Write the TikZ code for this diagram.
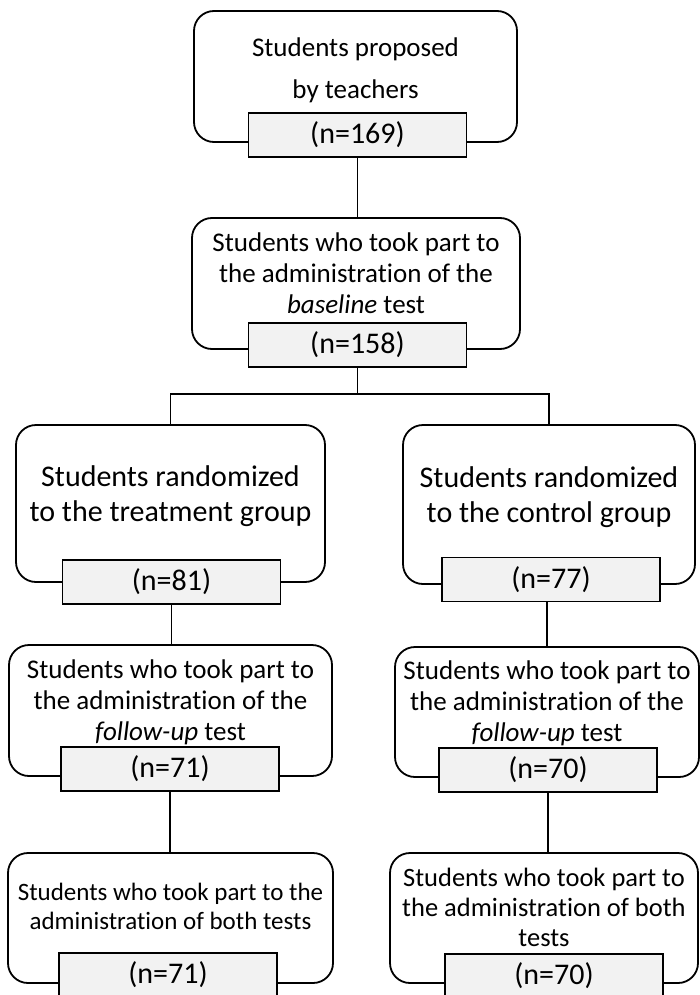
\documentclass[tikz,border=0pt]{standalone}
\usepackage{fontspec}
\setmainfont{Carlito}[RawFeature={-liga}]
\definecolor{cgray}{HTML}{F2F2F2}
\begin{document}
\begin{tikzpicture}[x=1pt,y=-1pt,
  rbox/.style={draw, line width=1.8pt, rounded corners=20pt, inner sep=0pt},
  cbox/.style={draw, line width=1.8pt, fill=cgray, inner sep=0pt, minimum width=218pt, minimum height=44pt, font=\fontsize{30}{34}\selectfont},
  txt/.style={align=center, inner sep=0pt},
  conn/.style={line width=1.8pt}]
\useasboundingbox (0,0) rectangle (700,995);
\clip (0,0) rectangle (700,995);
% boxes
\node[rbox, minimum width=323pt, minimum height=131pt] (b1) at (355.5,76.5) {};
\node[txt, font=\fontsize{27}{42}\selectfont] (t1) at (355.5,70) {Students proposed\\by teachers};
\node[cbox] (c1) at (357.5,135) {(n=169)};

\node[rbox, minimum width=328pt, minimum height=131pt] (b2) at (356,283.5) {};
\node[txt, font=\fontsize{27}{31}\selectfont] (t2) at (356,273) {Students who took part to\\the administration of the\\\textit{baseline} test};
\node[cbox] (c2) at (357.5,345) {(n=158)};

\node[rbox, minimum width=309pt, minimum height=157pt] (b3) at (170.5,503.5) {};
\node[txt, font=\fontsize{30}{35}\selectfont] (t3) at (170.5,496.5) {Students randomized\\to the treatment group};
\node[cbox] (c3) at (171.5,582) {(n=81)};

\node[rbox, minimum width=292pt, minimum height=159pt] (b4) at (549,504.5) {};
\node[txt, font=\fontsize{30}{35}\selectfont] (t4) at (549,497) {Students randomized\\to the control group};
\node[cbox] (c4) at (551,579.5) {(n=77)};

\node[rbox, minimum width=323pt, minimum height=131pt] (b5) at (170.5,710.5) {};
\node[txt, font=\fontsize{27}{31}\selectfont] (t5) at (170.5,702) {Students who took part to\\the administration of the\\\textit{follow-up} test};
\node[cbox] (c5) at (170,769) {(n=71)};

\node[rbox, minimum width=304pt, minimum height=130pt] (b6) at (547,712) {};
\node[txt, font=\fontsize{27}{31}\selectfont] (t6) at (547,703) {Students who took part to\\the administration of the\\\textit{follow-up} test};
\node[cbox] (c6) at (548,770) {(n=70)};

\node[rbox, minimum width=325pt, minimum height=130pt] (b7) at (170.5,918) {};
\node[txt, font=\fontsize{25}{29}\selectfont] (t7) at (170.5,906) {Students who took part to the\\administration of both tests};
\node[cbox] (c7) at (168,975) {(n=71)};

\node[rbox, minimum width=308pt, minimum height=130pt] (b8) at (544,918) {};
\node[txt, font=\fontsize{26.5}{30}\selectfont] (t8) at (544,907) {Students who took part to\\the administration of both\\tests};
\node[cbox] (c8) at (554,976) {(n=70)};

% connectors
\coordinate (split) at (357.5,394);
\draw[conn] (c1.south) -- (c1.south |- b2.north);
\draw[conn] (c2.south) -- (split);
\draw[conn] (b3.north) |- (split) -| (b4.north);
\draw[conn] (c3.south) -- (c3.south |- b5.north);
\draw[conn] (b6.north |- c4.south) -- (b6.north);
\draw[conn] (c5.south) -- (c5.south |- b7.north);
\draw[conn] (c6.south) -- (c6.south |- b8.north);
\end{tikzpicture}
\end{document}
